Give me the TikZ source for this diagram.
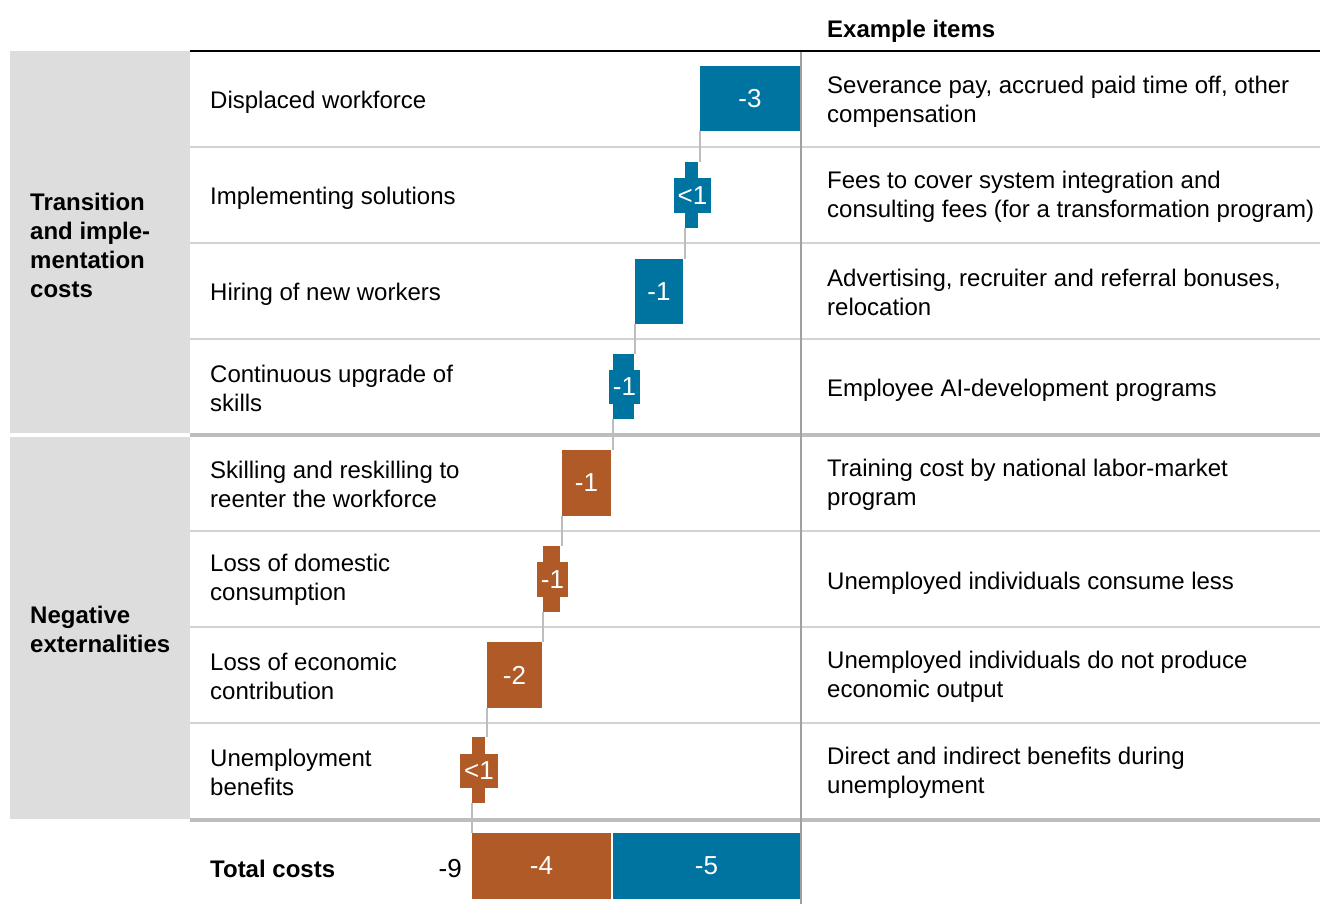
\documentclass[tikz,border=0pt]{standalone}
\usepackage{fontspec}
\setmainfont{Liberation Sans}
\usetikzlibrary{fit}
\definecolor{barblue}{HTML}{0074A1}
\definecolor{barbrown}{HTML}{B05A28}
\definecolor{blockgray}{HTML}{DDDDDD}
\definecolor{rulegray}{HTML}{D2D2D2}
\definecolor{vgray}{HTML}{A0A0A0}
\begin{document}
\begin{tikzpicture}[x=1pt,y=-1pt,
  font=\fontsize{24}{29}\selectfont,
  bluebar/.style={fill=barblue, draw=none, inner sep=0pt},
  brownbar/.style={fill=barbrown, draw=none, inner sep=0pt},
  barlbl/.style={text=white, inner sep=0pt, font=\fontsize{26}{30}\selectfont},
  rowtext/.style={anchor=west, align=left, inner sep=0pt, text=black},
  grouptext/.style={anchor=west, align=left, inner sep=0pt, font=\fontsize{24}{29}\selectfont\bfseries},
  rowrule/.style={draw=rulegray, line width=2pt},
  grouprule/.style={draw=rulegray!90!black, line width=3.5pt},
  conn/.style={draw=rulegray!90!black, line width=2pt},
  block/.style={fill=blockgray, draw=none, inner sep=0pt}
]
\useasboundingbox (0,0) rectangle (1320,904);
% grey group blocks
\node[block, fit={(10,51)(190,433)}] (g1) {};
\node[block, fit={(10,437)(190,819)}] (g2) {};
\node[grouptext] (g1t) at (30,245) {Transition\\and imple-\\mentation\\costs};
\node[grouptext] (g2t) at (30,629) {Negative\\externalities};
% header
\node[grouptext] (hdr) at (827,31) {Example items};
% row rules
\foreach \yy in {147,243,339,531,627,723} \draw[rowrule] (190,\yy) -- (1320,\yy);
\draw[grouprule] (190,435) -- (1320,435);
\draw[grouprule] (190,820) -- (1320,820);
\draw[draw=vgray, line width=1.6pt] (801,52) -- (801,904);
\draw[black, line width=2pt] (190,51) -- (1320,51);
% row labels
\node[rowtext] (t1) at (210,102) {Displaced workforce};
\node[rowtext] (t2) at (210,198) {Implementing solutions};
\node[rowtext] (t3) at (210,294) {Hiring of new workers};
\node[rowtext] (t4) at (210,388) {Continuous upgrade of\\skills};
\node[rowtext] (t5) at (210,484) {Skilling and reskilling to\\reenter the workforce};
\node[rowtext] (t6) at (210,580) {Loss of domestic\\consumption};
\node[rowtext] (t7) at (210,676) {Loss of economic\\contribution};
\node[rowtext] (t8) at (210,772) {Unemployment\\benefits};
\node[grouptext] (t9) at (210,869) {Total costs};
% example items
\node[rowtext] (e1) at (827,102) {Severance pay, accrued paid time off, other\\compensation};
\node[rowtext] (e2) at (827,197) {Fees to cover system integration and\\consulting fees (for a transformation program)};
\node[rowtext] (e3) at (827,292) {Advertising, recruiter and referral bonuses,\\relocation};
\node[rowtext] (e4) at (827,390) {Employee AI-development programs};
\node[rowtext] (e5) at (827,485) {Training cost by national labor-market\\program};
\node[rowtext] (e6) at (827,583) {Unemployed individuals consume less};
\node[rowtext] (e7) at (827,677) {Unemployed individuals do not produce\\economic output};
\node[rowtext] (e8) at (827,773) {Direct and indirect benefits during\\unemployment};
% bars
\node[bluebar, fit={(700,66)(800,131)}] (b1) {};
\node[bluebar, fit={(685,162)(698,228)}] (b2) {};
\node[bluebar, fit={(674,178)(711,213)}] (b2w) {};
\node[bluebar, fit={(635,259)(683,324)}] (b3) {};
\node[bluebar, fit={(613,354)(634,419)}] (b4) {};
\node[bluebar, fit={(609,370)(640,404)}] (b4w) {};
\node[brownbar, fit={(562,450)(611,516)}] (b5) {};
\node[brownbar, fit={(543,546)(560,612)}] (b6) {};
\node[brownbar, fit={(537,562)(568,597)}] (b6w) {};
\node[brownbar, fit={(487,642)(542,708)}] (b7) {};
\node[brownbar, fit={(472,737)(485,803)}] (b8) {};
\node[brownbar, fit={(460,754)(498,788)}] (b8w) {};
\node[brownbar, fit={(472,833)(611,899)}] (tb) {};
\node[bluebar, fit={(613,833)(800,899)}] (tu) {};
% bar labels
\node[barlbl] (l1) at (b1.center) {-3};
\node[barlbl] (l2) at (b2w.center) {<1};
\node[barlbl] (l3) at (b3.center) {-1};
\node[barlbl] (l4) at (b4w.center) {-1};
\node[barlbl] (l5) at (b5.center) {-1};
\node[barlbl] (l6) at (b6w.center) {-1};
\node[barlbl] (l7) at (b7.center) {-2};
\node[barlbl] (l8) at (b8w.center) {<1};
\node[barlbl] (lb) at (tb.center) {-4};
\node[barlbl] (lu) at (tu.center) {-5};
\node[anchor=east, inner sep=0pt, font=\fontsize{26}{30}\selectfont] (tot) at (462,869) {-9};
% connectors
\draw[conn] (b1.south west) -- (b1.south west |- b2.north);
\draw[conn] (b2.south west) -- (b2.south west |- b3.north);
\draw[conn] (b3.south west) -- (b3.south west |- b4.north);
\draw[conn] (b4.south west) -- (b4.south west |- b5.north);
\draw[conn] (b5.south west) -- (b5.south west |- b6.north);
\draw[conn] (b6.south west) -- (b6.south west |- b7.north);
\draw[conn] (b7.south west) -- (b7.south west |- b8.north);
\draw[conn] (b8.south west) -- (b8.south west |- tb.north);
\end{tikzpicture}
\end{document}
